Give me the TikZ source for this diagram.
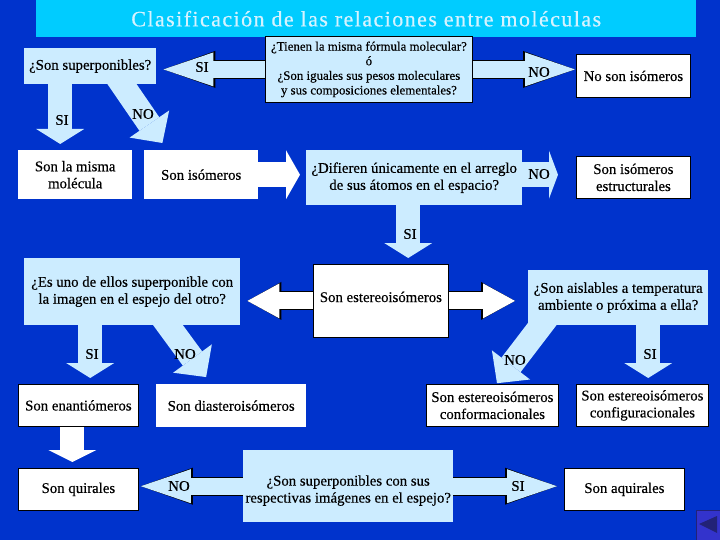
\documentclass[tikz,border=0pt]{standalone}
\usepackage{fontspec}
\setmainfont{Liberation Serif}[FakeBold=0.4]
\usepackage{xcolor}
\usetikzlibrary{arrows.meta,positioning,backgrounds}
\definecolor{Ground}{HTML}{0033CC}
\definecolor{Band}{HTML}{00CCFF}
\definecolor{TitleInk}{HTML}{D5F3FF}
\definecolor{Pale}{HTML}{CCECFF}
\definecolor{Button}{HTML}{3333CC}
\definecolor{ButtonDark}{HTML}{222277}

\begin{document}
\begin{tikzpicture}[x=1pt,y=-1pt,font=\fontsize{14.8}{17}\selectfont,
  box/.style={anchor=north west,align=center,inner sep=0pt},
  ask/.style={box,fill=Pale},
  askline/.style={ask,draw=black,line width=0.8pt},
  plain/.style={box,fill=white},
  result/.style={plain,draw=black,line width=0.8pt},
  word/.style={inner sep=0pt},
  wide/.style={draw=#1,line width=24pt,-{Triangle[length=15pt,width=48pt,line width=0pt]}},
  wide/.default=Pale,
  slant/.style={draw=Pale,line width=24pt,shorten <=-10pt,-{Triangle[length=23pt,width=48pt,line width=0pt]}},
  thin/.style={draw=#1,line width=17pt,-{Triangle[length=50pt,width=34pt,line width=0pt]},
    preaction={draw=black,line width=19pt,-{Triangle[length=52pt,width=37pt,line width=0pt]}}},
  thin/.default=Pale,
  mid/.style={draw=white,line width=17pt,-{Triangle[length=32pt,width=35pt,line width=0pt]},
    preaction={draw=black,line width=19pt,-{Triangle[length=34pt,width=38pt,line width=0pt]}}}]
\useasboundingbox (0,0) rectangle (720,540);

% Title band.
\node[box,fill=Band,minimum width=660pt,minimum height=37pt,font=\fontsize{22}{24}\selectfont\addfontfeature{LetterSpace=6.5},text=TitleInk] (title) at (36,0) {Clasificación de las relaciones entre moléculas};

% First row.
\node[ask,minimum width=132pt,minimum height=36pt] (superp) at (24,48) {¿Son superponibles?};
\node[askline,minimum width=207pt,minimum height=66pt,font=\fontsize{12.9}{14.6}\selectfont] (formula) at (265,36)
  {¿Tienen la misma fórmula molecular?\\ó\\¿Son iguales sus pesos moleculares\\y sus composiciones elementales?};
\node[result,minimum width=114pt,minimum height=43pt] (noiso) at (576,54) {No son isómeros};

% Second row.
\node[plain,minimum width=114pt,minimum height=49pt] (misma) at (18,150) {Son la misma\\molécula};
\node[plain,minimum width=114pt,minimum height=49pt] (iso) at (144,150) {Son isómeros};
\node[ask,minimum width=216pt,minimum height=55pt] (arreglo) at (306,150)
  {¿Difieren únicamente en el arreglo\\de sus átomos en el espacio?};
\node[result,minimum width=114pt,minimum height=42pt] (estruct) at (576,156) {Son isómeros\\estructurales};

% Third row.
\node[ask,minimum width=216pt,minimum height=67pt] (espejo) at (24,258)
  {¿Es uno de ellos superponible con\\la imagen en el espejo del otro?};
\node[result,minimum width=135pt,minimum height=73pt] (estereo) at (313,264) {\rule[-8pt]{0pt}{0pt}Son estereoisómeros};
\node[ask,minimum width=180pt,minimum height=55pt] (aisla) at (528,270)
  {¿Son aislables a temperatura\\ambiente o próxima a ella?};

% Fourth row.
\node[result,minimum width=120pt,minimum height=42pt] (enant) at (18,384) {Son enantiómeros};
\node[plain,minimum width=150pt,minimum height=43pt] (diast) at (156,384) {Son diasteroisómeros};
\node[result,minimum width=132pt,minimum height=42pt] (conf) at (426,384) {Son estereoisómeros\\conformacionales};
\node[result,minimum width=132pt,minimum height=42pt] (config) at (576,384) {Son estereoisómeros\\configuracionales};

% Last row.
\node[result,minimum width=120pt,minimum height=42pt] (quir) at (18,468) {Son quirales};
\node[ask,minimum width=210pt,minimum height=72pt] (imagen) at (243,450)
  {\rule{0pt}{19pt}¿Son superponibles con sus\\respectivas imágenes en el espejo?};
\node[result,minimum width=120pt,minimum height=42pt] (aquir) at (564,468) {Son aquirales};

\begin{pgfonlayer}{background}
  \fill[Ground] (0,0) rectangle (720,540);
  \draw[thin,shorten >=7pt] (formula.west) -- (formula.west -| superp.east);
  \draw[thin,shorten >=1pt] (formula.east) -- (formula.east -| noiso.west);
  \draw[wide,shorten >=6pt] ([xshift=-30pt]superp.south) -- ([xshift=-30pt]superp.south |- misma.north);
  \draw[slant,shorten >=8.5pt] ([xshift=32pt]superp.south) -- ([xshift=-34pt]iso.north);
  \draw[wide=white,-{Triangle[length=14pt,width=49pt,line width=0pt]},line width=25pt,shorten >=6pt] (iso.east) -- (iso.east -| arreglo.west);
  \draw[wide,-{Triangle[length=9pt,width=48pt,line width=0pt]},line width=25pt,shorten >=18pt] (arreglo.east |- iso.east) -- (iso.east -| estruct.west);
  \draw[wide,shorten >=6pt] ([xshift=-6pt]arreglo.south) -- ([xshift=-6pt]arreglo.south |- estereo.north);
  \draw[mid,shorten >=7pt] (estereo.west) -- (estereo.west -| espejo.east);
  \draw[mid,shorten >=13pt] (estereo.east) -- (estereo.east -| aisla.west);
  \draw[wide,shorten >=6pt] ([xshift=-42pt]espejo.south) -- ([xshift=-42pt]espejo.south |- enant.north);
  \draw[slant,shorten >=8.6pt] ([xshift=36pt]espejo.south) -- ([xshift=-20pt]diast.north);
  \draw[slant,shorten >=1pt] ([xshift=-77pt]aisla.south) -- ([xshift=4pt]conf.north);
  \draw[wide,shorten >=6pt] ([xshift=30pt]aisla.south) -- ([xshift=30pt]aisla.south |- config.north);
  \draw[wide=white,-{Triangle[length=12pt,width=48pt,line width=0pt]},shorten >=6pt] ([xshift=-6pt]enant.south) -- ([xshift=-6pt]enant.south |- quir.north);
  \draw[thin,shorten >=2pt] (imagen.west) -- (imagen.west -| quir.east);
  \draw[thin,shorten >=7pt] (imagen.east) -- (imagen.east -| aquir.west);
\end{pgfonlayer}

% Answers on the arrows.
\node[word] (sia) at (202,67) {SI};
\node[word] (noa) at (539,72) {NO};
\node[word] (sib) at (62,120) {SI};
\node[word] (nob) at (143,114) {NO};
\node[word] (noc) at (539,174) {NO};
\node[word] (sic) at (410,234) {SI};
\node[word] (sid) at (92,354) {SI};
\node[word] (nod) at (185,354) {NO};
\node[word] (noe) at (515,360) {NO};
\node[word] (sie) at (650,354) {SI};
\node[word] (nof) at (179,486) {NO};
\node[word] (sif) at (518,486) {SI};

% Back button.
\fill[Button,draw=ButtonDark] (696,510) rectangle (720,540);
\fill[ButtonDark] (699,524) -- (717,516) -- (717,533) -- cycle;
\end{tikzpicture}
\end{document}
